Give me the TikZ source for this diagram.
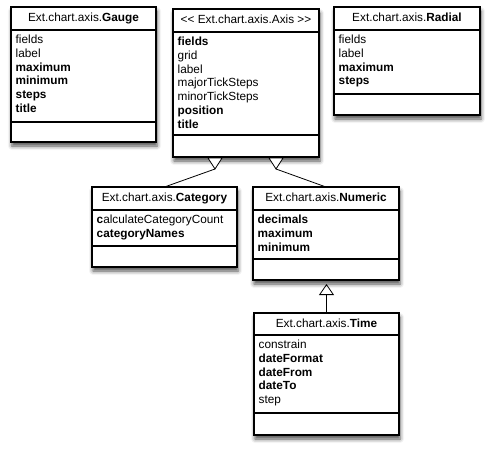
\documentclass[tikz,border=0pt]{standalone}
\usepackage{fontspec}
\setmainfont{Liberation Sans}
\usetikzlibrary{arrows.meta,shadows.blur}
\tikzset{
  umlfont/.style={font=\fontsize{11.8}{13.8}\selectfont},
  umlpart/.style={draw, line width=1.3pt, fill=white, inner sep=0pt, outer sep=0pt, anchor=north west},
  umltitle/.style={umlpart, umlfont, text height=8.5pt, text depth=2.5pt},
  umltext/.style={anchor=north west, inner sep=0pt, align=left, umlfont},
  umlshadow/.style={blur shadow={shadow xshift=1pt, shadow yshift=-4pt, shadow blur radius=4pt, shadow opacity=70}},
  genline/.style={line width=0.8pt},
  gentri/.style={line width=0.8pt, fill=white, line join=miter},
}
% name, L, T, R, s1, s2, B, title, attributes
\newcommand\umlclassbox[9]{%
  \pgfmathsetmacro\uW{#4-#2}%
  \pgfmathsetmacro\uHa{#5-#3}%
  \pgfmathsetmacro\uHb{#6-#5}%
  \pgfmathsetmacro\uHc{#7-#6}%
  \pgfmathsetmacro\uTx{#2+4.5}%
  \pgfmathsetmacro\uTy{#5+4.3}%
  \path[umlshadow] (#2,#3) rectangle (#4,#7);
  \node[umltitle, minimum width=\uW pt, minimum height=\uHa pt] (#1) at (#2,#3) {#8};
  \node[umlpart, minimum width=\uW pt, minimum height=\uHb pt] (#1-a) at (#2,#5) {};
  \node[umlpart, minimum width=\uW pt, minimum height=\uHc pt] (#1-o) at (#2,#6) {};
  \node[umltext] (#1-t) at (\uTx,\uTy) {\rule{0pt}{9pt}#9};
}
\begin{document}
\begin{tikzpicture}[x=1pt,y=-1pt]
\useasboundingbox (0,0) rectangle (490,450);
\umlclassbox{gauge}{11}{7}{156}{30}{122}{142}{Ext.chart.axis.\textbf{Gauge}}%
  {fields\\label\\\textbf{maximum}\\\textbf{minimum}\\\textbf{steps}\\\textbf{title}}
\umlclassbox{axis}{173}{9}{319}{32}{135}{157}{<{}< Ext.chart.axis.Axis >{}>}%
  {\textbf{fields}\\grid\\label\\majorTickSteps\\minorTickSteps\\\textbf{position}\\\textbf{title}}
\umlclassbox{radial}{334}{7}{480}{30}{94}{115}{Ext.chart.axis.\textbf{Radial}}%
  {fields\\label\\\textbf{maximum}\\\textbf{steps}}
\umlclassbox{category}{92}{187}{237}{210}{246}{267}{Ext.chart.axis.\textbf{Category}}%
  {\textbf{c}alculateCategoryCount\\\textbf{categoryNames}}
\umlclassbox{numeric}{253}{187}{399}{210}{259}{280}{Ext.chart.axis.\textbf{Numeric}}%
  {\textbf{decimals}\\\textbf{maximum}\\\textbf{minimum}}
\umlclassbox{time}{254}{313}{399}{335}{413}{435}{Ext.chart.axis.\textbf{Time}}%
  {constrain\\\textbf{dateFormat}\\\textbf{dateFrom}\\\textbf{dateTo}\\step}

% generalisations
\coordinate (tipC) at (215,169);
\coordinate (tipN) at (276,169);
\coordinate (tipT) at (326.5,284);
\draw[genline] (category.north) -- (tipC);
\draw[gentri] (tipC) -- ++(-7,-11) -- ++(14,0) -- cycle;
\draw[genline] (numeric.north) -- (tipN);
\draw[gentri] (tipN) -- ++(-7,-11) -- ++(14,0) -- cycle;
\draw[genline, -{Triangle[open, width=15pt, length=11pt, line join=miter]}] (time.north) -- (tipT);
\end{tikzpicture}
\end{document}
